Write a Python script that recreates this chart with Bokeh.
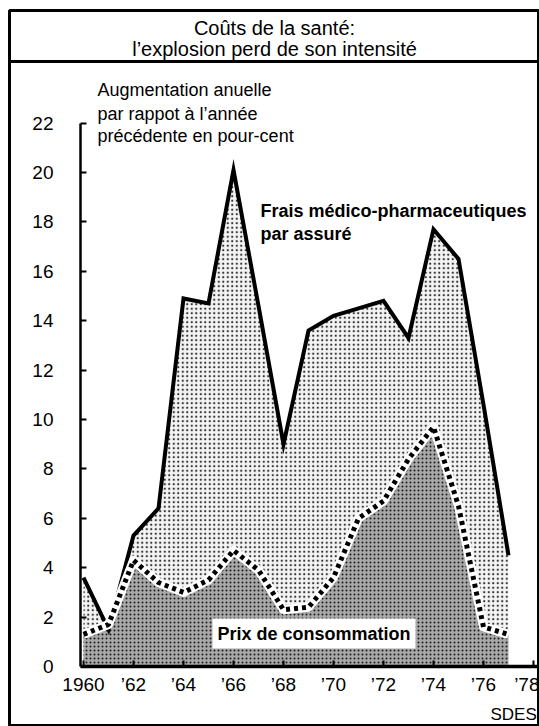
from bokeh.plotting import figure
from bokeh.models import Range1d, FixedTicker, Label, Span
from bokeh.embed import file_html
from bokeh.resources import INLINE

# ---- data ----
years = list(range(1960, 1978))
frais = [3.6, 1.5, 5.3, 6.4, 14.9, 14.7, 20.1, 14.6, 9.0, 13.6, 14.2, 14.5, 14.8, 13.3, 17.7, 16.5, 10.6, 4.5]
prix = [1.3, 1.7, 4.3, 3.4, 3.0, 3.5, 4.7, 3.9, 2.3, 2.4, 3.6, 6.0, 6.7, 8.4, 9.7, 6.5, 1.6, 1.3]
x_ticks = list(range(1960, 1980, 2))
x_tick_labels = ["1960", "\u201962", "\u201964", "\u201966", "\u201968", "\u201970",
                 "\u201972", "\u201974", "\u201976", "\u201978"]
y_ticks = list(range(0, 24, 2))

title_1 = "Coûts de la santé:"
title_2 = "l’explosion perd de son intensité"
axis_note = ["Augmentation anuelle", "par rappot à l’année", "précédente en pour-cent"]
frais_label = ["Frais médico-pharmaceutiques", "par assuré"]
prix_label = "Prix de consommation"
source = "SDES"

# ---- layout (page pixels -> data) ----
W, H = 539, 726
FRAME_L, FRAME_T = 9, 10
X_ORIGIN_PX, PX_YEAR = 83, 25.0
Y_ORIGIN_PX, PX_UNIT = 666, 24.7


def dx(px):
    return 1960 + (px - X_ORIGIN_PX) / PX_YEAR


def dy(py):
    return (Y_ORIGIN_PX - py) / PX_UNIT


FONT = "Liberation Sans"

p = figure(width=W, height=H, output_backend="svg", toolbar_location=None,
           x_range=Range1d(dx(FRAME_L), dx(W)),
           y_range=Range1d(dy(H), dy(FRAME_T)),
           min_border_left=FRAME_L, min_border_top=FRAME_T, min_border_right=0, min_border_bottom=0,
           background_fill_color="white", border_fill_color="white")
p.outline_line_color = "black"
p.outline_line_width = 3
p.xgrid.grid_line_color = None
p.ygrid.grid_line_color = None

# areas
p.varea(x=years, y1=0, y2=frais, fill_color="#f4f4f4",
        hatch_pattern=".", hatch_scale=4.5, hatch_weight=1.7, hatch_color="#333333")
p.varea(x=years, y1=0, y2=prix, fill_color="#a8a8a8",
        hatch_pattern=".", hatch_scale=4, hatch_weight=2.0, hatch_color="#1a1a1a")

# lines
p.line(years, frais, line_color="black", line_width=4, line_join="miter")
p.line(years, prix, line_color="white", line_width=9, line_join="round")
p.line(years, prix, line_color="black", line_width=5, line_dash="4 4", line_cap="butt")

# axes
p.yaxis.fixed_location = dx(80)
p.xaxis.fixed_location = 0
p.yaxis.bounds = (0, 22)
p.xaxis.bounds = (dx(80), dx(W))
p.yaxis.ticker = FixedTicker(ticks=y_ticks)
p.xaxis.ticker = FixedTicker(ticks=x_ticks)
p.xaxis.major_label_overrides = {t: lab for t, lab in zip(x_ticks, x_tick_labels)}
for ax in (p.xaxis, p.yaxis):
    ax.axis_line_color = "black"
    ax.major_tick_line_color = "black"
    ax.major_tick_in = 6
    ax.major_tick_out = 0
    ax.minor_tick_line_color = None
    ax.major_label_text_font = FONT
    ax.major_label_text_font_size = "19px"
    ax.major_label_text_color = "black"
p.yaxis.axis_line_width = 2.5
p.xaxis.axis_line_width = 3.5
p.yaxis.major_tick_line_width = 2
p.xaxis.major_tick_line_width = 2
p.yaxis.major_label_standoff = 27
p.xaxis.major_label_standoff = 7

# title box
p.add_layout(Span(location=dy(61), dimension="width", line_color="black", line_width=3))
cx = (dx(FRAME_L) + dx(W)) / 2
for txt, py in zip([title_1, title_2], [27, 48]):
    p.add_layout(Label(x=cx, y=dy(py), text=txt, text_align="center", text_baseline="middle",
                       text_font=FONT, text_font_size="20px", text_color="black"))

# axis note
for txt, py in zip(axis_note, [89, 113, 135]):
    p.add_layout(Label(x=dx(97), y=dy(py), text=txt, text_align="left", text_baseline="middle",
                       text_font=FONT, text_font_size="18px", text_color="black"))

# series labels
for txt, py in zip(frais_label, [210, 233]):
    p.add_layout(Label(x=dx(260), y=dy(py), text=txt, text_align="left", text_baseline="middle",
                       text_font=FONT, text_font_size="18px", text_font_style="bold",
                       text_color="black"))
p.add_layout(Label(x=dx(212), y=dy(633), text=prix_label, text_align="left", text_baseline="middle",
                   text_font=FONT, text_font_size="18px", text_font_style="bold", text_color="black",
                   background_fill_color="white", padding=5))

p.add_layout(Label(x=dx(490), y=dy(714), text=source, text_align="left", text_baseline="middle",
                   text_font=FONT, text_font_size="17px", text_color="black"))

open("out.html", "w").write(file_html(p, INLINE))
